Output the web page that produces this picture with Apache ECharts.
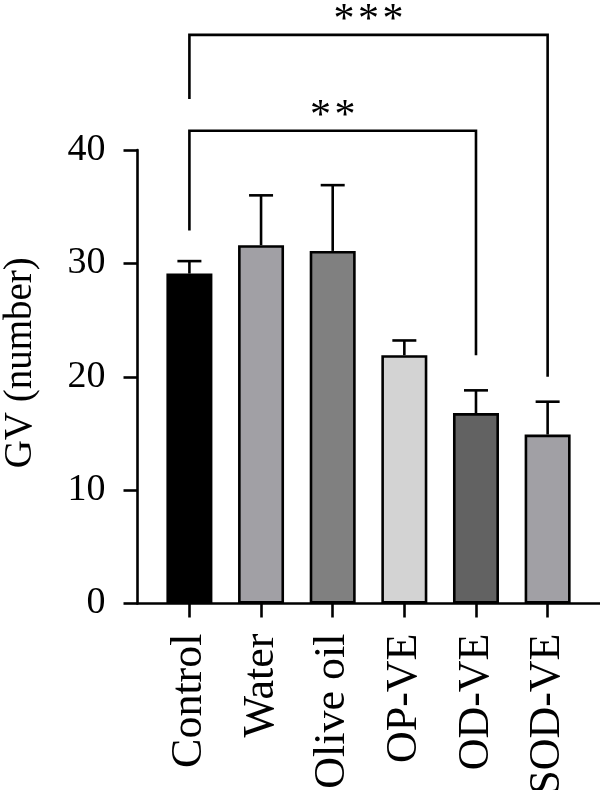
<!DOCTYPE html>
<html><head><meta charset="utf-8">
<script src="https://cdn.jsdelivr.net/npm/echarts@6/dist/echarts.min.js"></script>
<style>html,body{margin:0;padding:0;background:#fff}#c{width:600px;height:790px}</style>
</head><body><div id="c"></div>
<script>
const categories = ['Control', 'Water', 'Olive oil', 'OP-VE', 'OD-VE', 'SOD-VE'];
const means = [29.1, 31.6, 31.1, 21.9, 16.8, 14.9];
const errors = [1.1, 4.4, 5.8, 1.3, 2.0, 2.9];
const barColors = ['#000000', '#a1a0a5', '#808080', '#d3d3d3', '#626262', '#a1a0a5'];
const yTickValues = [0, 10, 20, 30, 40];
// significance brackets
const bracketFrom = [0, 0];
const bracketTo = [4, 5];
const bracketTop = [41.7, 50.15];
const bracketLeftEnd = [32.9, 44.5];
const bracketRightEnd = [21.9, 20.0];
const bracketLabels = ['*\u200A*', '*\u200A*\u200A*'];

const FONT = '"Liberation Serif", "Times New Roman", serif';
const LW = 2.6;
const chart = echarts.init(document.getElementById('c'), null, {renderer: 'canvas'});
const catIdx = categories.map((c, i) => i);

chart.setOption({
  animation: false,
  backgroundColor: '#ffffff',
  grid: {left: 137.5, right: 0, top: 150, bottom: 186.5, containLabel: false, outerBoundsMode: 'none'},
  xAxis: {
    type: 'value', min: -0.7245, max: 5.731,
    splitLine: {show: false},
    axisLine: {show: true, onZero: false, lineStyle: {color: '#000', width: LW}},
    axisTick: {show: true, customValues: catIdx, length: 14, lineStyle: {color: '#000', width: LW}},
    axisLabel: {show: true, customValues: catIdx, formatter: v => categories[Math.round(v)] || '',
      rotate: 90, margin: 30, color: '#000', fontSize: 44, fontFamily: FONT}
  },
  yAxis: {
    type: 'value', min: 0, max: 40, interval: 10,
    name: 'GV (number)', nameLocation: 'middle', nameRotate: 90, nameGap: 97,
    nameTextStyle: {color: '#000', fontSize: 39, fontFamily: FONT, padding: [0, 0, 0, 28]},
    splitLine: {show: false},
    axisLine: {show: true, onZero: false, lineStyle: {color: '#000', width: LW}},
    axisTick: {show: true, length: 14, customValues: yTickValues, lineStyle: {color: '#000', width: LW}},
    axisLabel: {color: '#000', fontSize: 38, fontFamily: FONT, margin: 32, customValues: yTickValues}
  },
  series: [
    {
      type: 'custom', z: 1, clip: false,
      data: means.map((m, i) => [i, m, m + errors[i]]),
      encode: {x: 0, y: [1, 2]},
      renderItem: (params, api) => {
        const p0 = api.coord([api.value(0), api.value(1)]);
        const p1 = api.coord([api.value(0), api.value(2)]);
        const st = {stroke: '#000', lineWidth: LW};
        return {type: 'group', children: [
          {type: 'line', shape: {x1: p0[0], y1: p0[1], x2: p1[0], y2: p1[1]}, style: st},
          {type: 'line', shape: {x1: p1[0] - 12, y1: p1[1], x2: p1[0] + 12, y2: p1[1]}, style: st}
        ]};
      }
    },
    {
      type: 'bar', z: 2, barWidth: 46,
      data: means.map((m, i) => ({value: [i, m], itemStyle: {color: barColors[i], borderColor: '#000', borderWidth: LW}}))
    },
    {
      type: 'custom', z: 3, clip: false,
      data: bracketFrom.map((f, i) => [f, bracketTo[i], bracketTop[i], bracketLeftEnd[i], bracketRightEnd[i]]),
      encode: {x: [0, 1], y: [2, 3, 4]},
      renderItem: (params, api) => {
        const x0 = api.value(0), x1 = api.value(1);
        const top = api.value(2);
        const a = api.coord([x0, api.value(3)]);
        const b = api.coord([x0, top]);
        const c = api.coord([x1, top]);
        const d = api.coord([x1, api.value(4)]);
        return {type: 'group', children: [
          {type: 'polyline', shape: {points: [a, b, c, d]}, style: {stroke: '#000', lineWidth: LW, fill: null}},
          {type: 'text', style: {text: bracketLabels[params.dataIndex], x: (b[0] + c[0]) / 2, y: b[1] - 14,
            align: 'center', verticalAlign: 'middle', fontSize: 42, fontFamily: FONT, fill: '#000'}}
        ]};
      }
    }
  ]
});
</script></body></html>
